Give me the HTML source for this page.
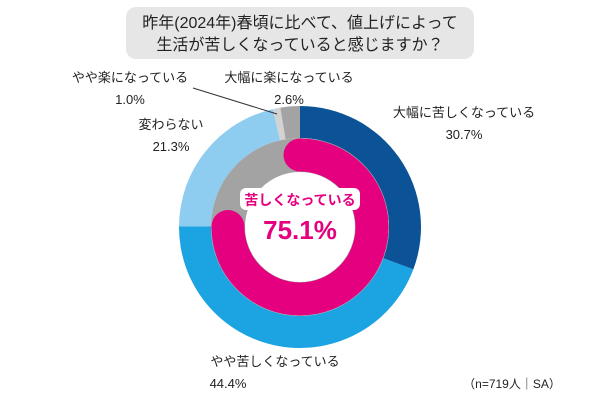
<!DOCTYPE html>
<html><head><meta charset="utf-8"><style>
body{margin:0;width:600px;height:400px;background:#fff;overflow:hidden;font-family:"Liberation Sans","Noto Sans CJK JP",sans-serif;}
</style></head><body>
<svg width="600" height="400" id="svg" style="position:absolute;left:0;top:0">
<rect x="126" y="7" width="348" height="52" rx="10" fill="#e6e6e6"/>
<text x="300" y="28" text-anchor="middle" font-size="16" fill="#222">昨年(2024年)春頃に比べて、値上げによって</text>
<text x="300" y="50" text-anchor="middle" font-size="16" fill="#222">生活が苦しくなっていると感じますか？</text>
<g id="outer"></g>
<circle cx="300" cy="227" r="89" fill="#a3a3a3"/>
<path id="pink" fill="none" stroke="#e4007f" stroke-width="33" stroke-linecap="round"/>
<circle cx="300" cy="227" r="55" fill="#fff"/>
<rect x="240" y="188" width="120" height="22" rx="6" fill="#fff"/>
<text x="300" y="205" text-anchor="middle" font-size="14" font-weight="bold" fill="#e4007f">苦しくなっている</text>
<text x="300" y="239" text-anchor="middle" font-size="26" font-weight="bold" fill="#e4007f">75.1%</text>
<line x1="193" y1="88" x2="277" y2="114" stroke="#333" stroke-width="1"/>
<g font-size="13" fill="#222">
<text x="130" y="82" text-anchor="middle">やや楽になっている</text>
<text x="130" y="104" text-anchor="middle">1.0%</text>
<text x="289" y="82" text-anchor="middle">大幅に楽になっている</text>
<text x="289" y="104" text-anchor="middle">2.6%</text>
<text x="464" y="117" text-anchor="middle">大幅に苦しくなっている</text>
<text x="464" y="139" text-anchor="middle">30.7%</text>
<text x="171" y="129" text-anchor="middle">変わらない</text>
<text x="171" y="151" text-anchor="middle">21.3%</text>
<text x="275" y="366" text-anchor="middle">やや苦しくなっている</text>
<text x="228" y="388" text-anchor="middle">44.4%</text>
<text x="512" y="388" text-anchor="middle" font-size="12">（n=719人｜SA）</text>
</g>
</svg>
<script>
const categories=["大幅に苦しくなっている","やや苦しくなっている","変わらない","やや楽になっている","大幅に楽になっている"];
const values=[30.7,44.4,21.3,1.0,2.6];
const colors=["#0b5297","#1ba3e2","#8fcdf0","#d3d3d3","#a3a3a3"];
const pinkValue=[75.1];
const cx=300,cy=227,R=121,r0=89;
function pt(a,r){return [cx+r*Math.sin(a),cy-r*Math.cos(a)];}
const total=values.reduce((a,b)=>a+b,0);
let acc=0;const g=document.getElementById('outer');
values.forEach((v,i)=>{
 const a0=acc/total*2*Math.PI;acc+=v;const a1=acc/total*2*Math.PI;
 const large=(a1-a0)>Math.PI?1:0;
 const p1=pt(a0,R),p2=pt(a1,R),p3=pt(a1,r0),p4=pt(a0,r0);
 const p=document.createElementNS('http://www.w3.org/2000/svg','path');
 p.setAttribute('d',`M${p1}A${R},${R} 0 ${large} 1 ${p2}L${p3}A${r0},${r0} 0 ${large} 0 ${p4}Z`);
 p.setAttribute('fill',colors[i]);
 
 
 g.appendChild(p);
});
const pr=72,pa=pinkValue[0]/100*2*Math.PI;
const s=pt(0,pr),e=pt(pa,pr);
document.getElementById('pink').setAttribute('d',`M${s}A${pr},${pr} 0 ${pa>Math.PI?1:0} 1 ${e}`);
</script>
</body></html>
